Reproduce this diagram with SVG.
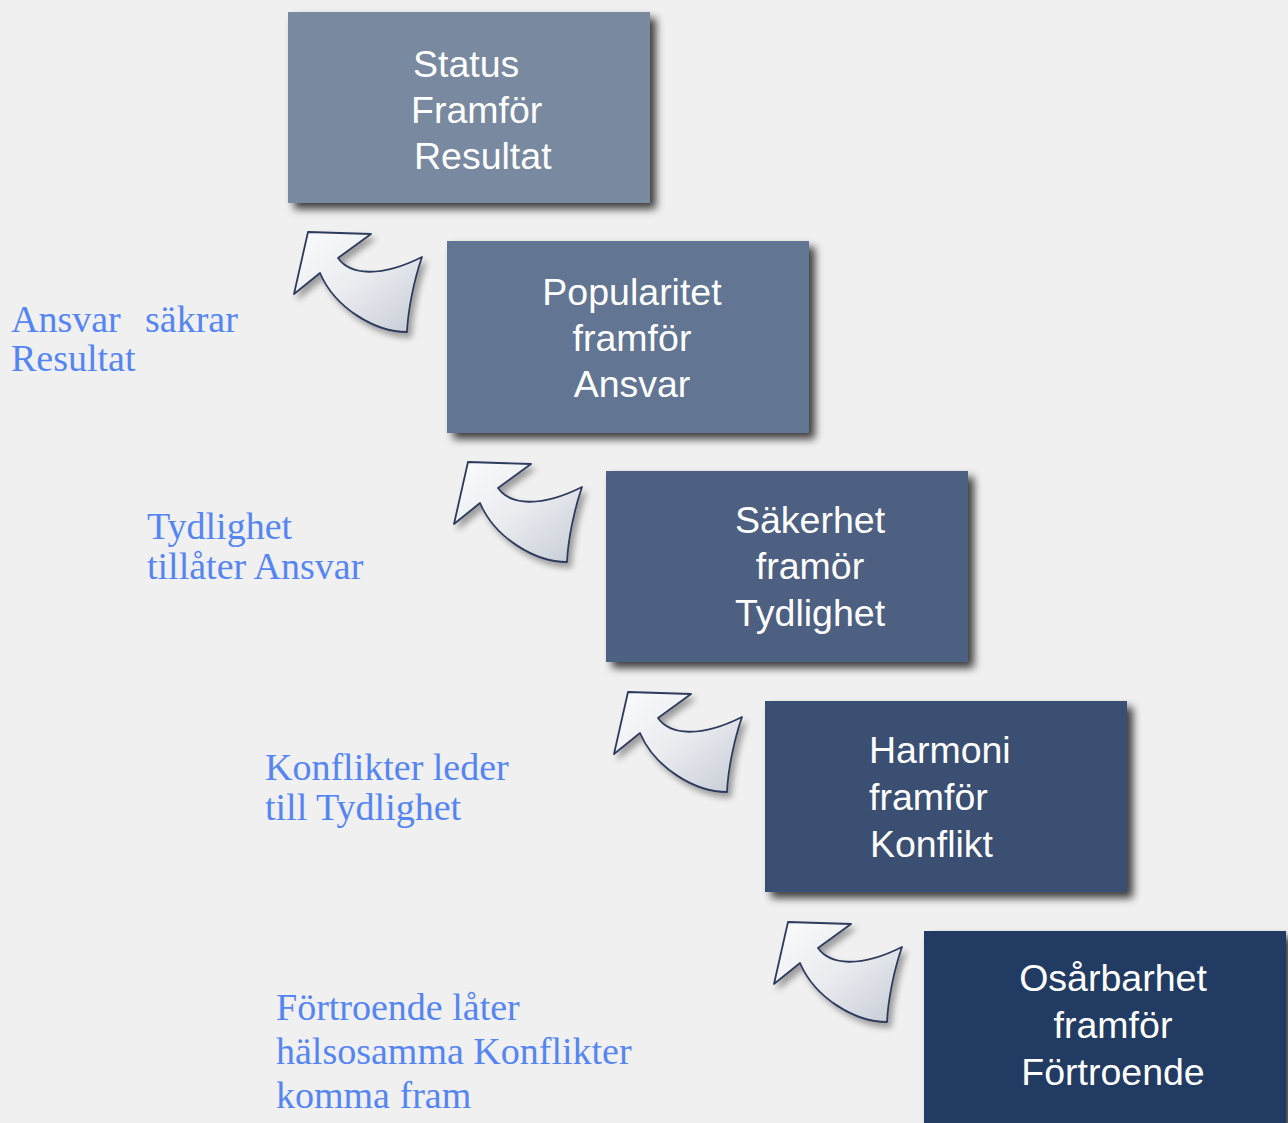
<svg xmlns="http://www.w3.org/2000/svg" width="1288" height="1123" viewBox="0 0 1288 1123">
<defs>
<filter id="boxShadow" x="-10%" y="-10%" width="125%" height="130%">
<feGaussianBlur in="SourceAlpha" stdDeviation="4"/>
<feOffset dx="6" dy="6" result="b"/>
<feComponentTransfer><feFuncA type="linear" slope="0.75"/></feComponentTransfer>
<feMerge><feMergeNode/><feMergeNode in="SourceGraphic"/></feMerge>
</filter>
<filter id="arrowShadow" x="-20%" y="-20%" width="150%" height="150%">
<feGaussianBlur in="SourceAlpha" stdDeviation="3"/>
<feOffset dx="4" dy="5" result="b"/>
<feComponentTransfer><feFuncA type="linear" slope="0.35"/></feComponentTransfer>
<feMerge><feMergeNode/><feMergeNode in="SourceGraphic"/></feMerge>
</filter>
<linearGradient id="arrowFill" x1="0" y1="0" x2="1" y2="1">
<stop offset="0" stop-color="#fbfcfd"/>
<stop offset="0.5" stop-color="#e9ebef"/>
<stop offset="1" stop-color="#c6cbd5"/>
</linearGradient>
<path id="arrow" d="M 14,74 L 28,12 L 91,14 L 58,38 C 70,55 100,58 142,37 C 134,60 128,90 127,112 C 95,112 55,88 40,53 Z"/>
</defs>
<style>
.box{filter:url(#boxShadow);}
.bt{font-family:"Liberation Sans",Arial,sans-serif;font-size:37.5px;fill:#ffffff;}
.lbl{font-family:"Liberation Serif","Times New Roman",serif;font-size:38px;fill:#5585f2;}
.arr{fill:url(#arrowFill);stroke:#2e3b5c;stroke-width:1.8;stroke-linejoin:round;filter:url(#arrowShadow);}
</style>
<rect width="1288" height="1123" fill="#f0f0f0"/>

<g id="connectors">
<use href="#arrow" class="arr" transform="translate(280,220)"/>
<use href="#arrow" class="arr" transform="translate(440,450)"/>
<use href="#arrow" class="arr" transform="translate(600,680)"/>
<use href="#arrow" class="arr" transform="translate(760,910)"/>
</g>

<g id="node-status">
<rect class="box" x="288" y="12" width="362" height="191" fill="#7889a0"/>
<text class="bt" x="413" y="77">Status</text>
<text class="bt" x="411" y="123">Framför</text>
<text class="bt" x="414" y="169">Resultat</text>
</g>

<g id="node-popularitet">
<rect class="box" x="447" y="241" width="362" height="192" fill="#627592"/>
<text class="bt" x="632" y="305" text-anchor="middle">Popularitet</text>
<text class="bt" x="632" y="351" text-anchor="middle">framför</text>
<text class="bt" x="632" y="397" text-anchor="middle">Ansvar</text>
</g>

<g id="node-sakerhet">
<rect class="box" x="606" y="471" width="362" height="191" fill="#4e6181"/>
<text class="bt" x="810" y="533" text-anchor="middle">Säkerhet</text>
<text class="bt" x="810" y="579" text-anchor="middle">framör</text>
<text class="bt" x="810" y="626" text-anchor="middle">Tydlighet</text>
</g>

<g id="node-harmoni">
<rect class="box" x="765" y="701" width="362" height="191" fill="#3a4f73"/>
<text class="bt" x="869" y="763">Harmoni</text>
<text class="bt" x="869" y="810">framför</text>
<text class="bt" x="870" y="857">Konflikt</text>
</g>

<g id="node-osarbarhet">
<rect class="box" x="924" y="931" width="362" height="200" fill="#243a62"/>
<text class="bt" x="1113" y="991" text-anchor="middle">Osårbarhet</text>
<text class="bt" x="1113" y="1038" text-anchor="middle">framför</text>
<text class="bt" x="1113" y="1085" text-anchor="middle">Förtroende</text>
</g>

<g id="labels">
<text class="lbl" x="11" y="332">Ansvar</text>
<text class="lbl" x="145" y="332">säkrar</text>
<text class="lbl" x="11" y="371">Resultat</text>
<text class="lbl" x="147" y="539">Tydlighet</text>
<text class="lbl" x="147" y="579">tillåter Ansvar</text>
<text class="lbl" x="265" y="780">Konflikter leder</text>
<text class="lbl" x="265" y="820">till Tydlighet</text>
<text class="lbl" x="276" y="1020">Förtroende låter</text>
<text class="lbl" x="276" y="1064">hälsosamma Konflikter</text>
<text class="lbl" x="276" y="1108">komma fram</text>
</g>
</svg>
